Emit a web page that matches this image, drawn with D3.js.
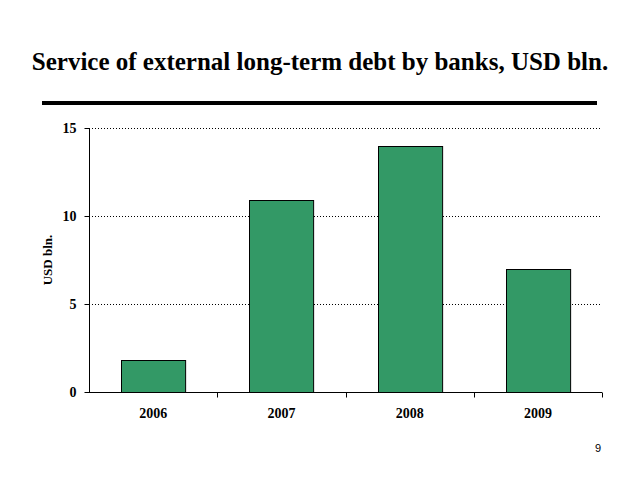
<!DOCTYPE html>
<html><head><meta charset="utf-8">
<script src="https://cdn.jsdelivr.net/npm/d3@7"></script>
<style>body{margin:0;background:#fff}svg{display:block}.sf{font-family:"Liberation Serif","Times New Roman","DejaVu Serif",serif;font-weight:bold}</style>
</head><body>
<svg id="c" width="640" height="480"></svg>
<script>
const categories = ["2006", "2007", "2008", "2009"];
const values = [1.8, 10.9, 14.0, 7.0];
const yTicks = [0, 5, 10, 15];
const title = "Service of external long-term debt by banks, USD bln.";
const yLabel = "USD bln.";
const pageNo = "9";

const svg = d3.select("#c");
const m = {left: 89, right: 602, top: 128, bottom: 392};
const x = d3.scaleBand().domain(categories).range([m.left, m.right]).paddingInner(0.5).paddingOuter(0.25);
const y = d3.scaleLinear().domain([0, 15]).range([m.bottom, m.top]);

svg.append("text").attr("class", "sf").attr("x", 320).attr("y", 70).attr("text-anchor", "middle")
  .attr("font-size", 25).text(title);
svg.append("rect").attr("x", 42).attr("y", 101).attr("width", 555).attr("height", 4).attr("fill", "#000");

// gridlines
svg.append("g").selectAll("line").data(yTicks.filter(d => d > 0)).join("line")
  .attr("x1", m.left).attr("x2", m.right).attr("y1", d => Math.round(y(d)) + 0.5).attr("y2", d => Math.round(y(d)) + 0.5)
  .attr("stroke", "#000").attr("stroke-dasharray", "1,2").attr("stroke-width", 1);

// bars
svg.append("g").selectAll("rect").data(values).join("rect")
  .attr("x", (d, i) => Math.round(x(categories[i])) + 0.5)
  .attr("y", d => Math.round(y(d)) + 0.5)
  .attr("width", x.bandwidth())
  .attr("height", d => Math.round(y(0)) - Math.round(y(d)))
  .attr("fill", "#339966").attr("stroke", "#000").attr("stroke-width", 1);

// y axis
const yAxis = svg.append("g").attr("transform", `translate(${m.left + 0.5},0)`)
  .call(d3.axisLeft(y).tickValues(yTicks).tickSize(5).tickPadding(8));
yAxis.attr("font-family", null);
yAxis.select(".domain").attr("d", `M0,${m.top}V${m.bottom}`);
yAxis.selectAll("text").attr("class", "sf").attr("font-size", 14).attr("fill", "#000");

// x axis
const xb = d3.scaleLinear().domain([0, 4]).range([m.left, m.right]);
const xAxis = svg.append("g").attr("transform", `translate(0,${m.bottom + 0.5})`);
xAxis.append("line").attr("x1", m.left).attr("x2", m.right).attr("stroke", "#000");
xAxis.selectAll("line.t").data([1, 2, 3, 4]).join("line").attr("class", "t")
  .attr("x1", d => Math.round(xb(d)) + 0.5).attr("x2", d => Math.round(xb(d)) + 0.5).attr("y1", 0).attr("y2", 5).attr("stroke", "#000");
xAxis.selectAll("text").data(categories).join("text").attr("class", "sf")
  .attr("x", d => x(d) + x.bandwidth() / 2).attr("y", 25).attr("text-anchor", "middle")
  .attr("font-size", 14).text(d => d);

svg.append("text").attr("class", "sf").attr("transform", "translate(52,260) rotate(-90)").attr("text-anchor", "middle")
  .attr("font-size", 13).text(yLabel);

svg.append("text").attr("x", 601).attr("y", 452).attr("text-anchor", "end")
  .attr("font-family", "'Liberation Sans',Arial,sans-serif").attr("font-size", 11).text(pageNo);
</script>
</body></html>
